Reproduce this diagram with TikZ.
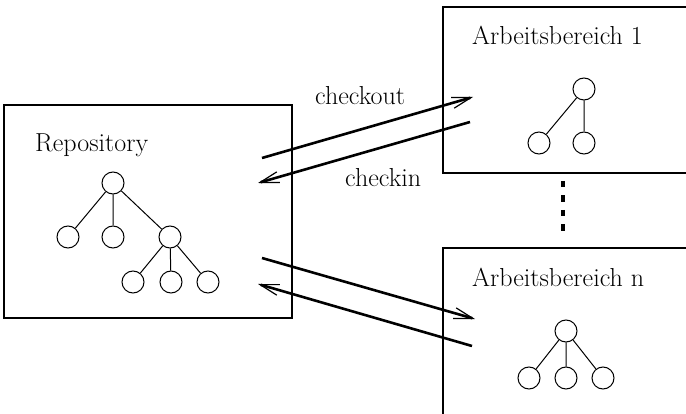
\documentclass[tikz,border=0pt]{standalone}
\usetikzlibrary{arrows.meta}
\begin{document}
\begin{tikzpicture}[x=1pt,y=-1pt,
  lbl/.style={font=\fontsize{26}{30}\selectfont, anchor=base west, inner sep=0pt},
  area/.style={draw, line width=1.2pt, inner sep=0pt},
  knot/.style={draw, circle, line width=1pt, minimum size=22pt, inner sep=0pt},
  edge/.style={line width=1pt},
  flow/.style={line width=2.6pt, -{Straight Barb[length=19pt,width=11pt,line width=1.2pt]}}]
\useasboundingbox (0,0) rectangle (686,414);
\clip (0,0) rectangle (686,414);
% boxes
\node[area, minimum width=288pt, minimum height=213pt] (repo) at (148,211.5) {};
\node[area, minimum width=260pt, minimum height=166pt] (ab1) at (573,90) {};
\node[area, minimum width=260pt, minimum height=190pt] (abn) at (573,343) {};
% titles
\node[lbl] (trepo) at (35,152) {Repository};
\node[lbl] (tab1) at (472,45) {Arbeitsbereich 1};
\node[lbl] (tabn) at (472,287) {Arbeitsbereich n};
\node[lbl] (tco) at (315,105) {checkout};
\node[lbl] (tci) at (345,187) {checkin};
% repository tree
\node[knot] (r) at (113,183) {};
\node[knot] (r1) at (68,237) {};
\node[knot] (r2) at (113,237) {};
\node[knot] (r3) at (170,237) {};
\node[knot] (r31) at (133,282) {};
\node[knot] (r32) at (171,282) {};
\node[knot] (r33) at (208,282) {};
\draw[edge] (r)--(r1) (r)--(r2) (r)--(r3) (r3)--(r31) (r3)--(r32) (r3)--(r33);
% workspace 1 tree
\node[knot] (a) at (584,89) {};
\node[knot] (a1) at (539,143) {};
\node[knot] (a2) at (584,143) {};
\draw[edge] (a)--(a1) (a)--(a2);
% workspace n tree
\node[knot] (b) at (566,331) {};
\node[knot] (b1) at (529,378) {};
\node[knot] (b2) at (566,378) {};
\node[knot] (b3) at (603,378) {};
\draw[edge] (b)--(b1) (b)--(b2) (b)--(b3);
% dots
\coordinate (d1) at (563,181);
\coordinate (d2) at (563,234);
\draw[line width=4pt, dash pattern=on 6.5pt off 8pt] (d1)--(d2);
% arrows
\coordinate (c1s) at (262,158);
\coordinate (c1e) at (473,97);
\coordinate (c2s) at (470,122);
\coordinate (c2e) at (258,183);
\coordinate (c3s) at (262,258);
\coordinate (c3e) at (475,319);
\coordinate (c4s) at (472,346);
\coordinate (c4e) at (258,284);
\draw[flow] (c1s)--(c1e);
\draw[flow] (c2s)--(c2e);
\draw[flow] (c3s)--(c3e);
\draw[flow] (c4s)--(c4e);
\end{tikzpicture}
\end{document}
